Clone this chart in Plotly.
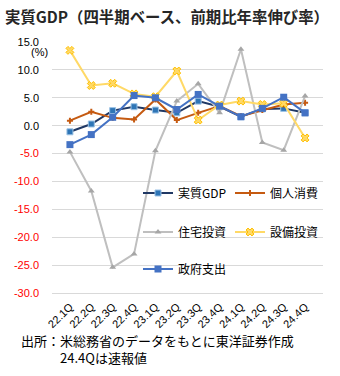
import plotly.graph_objects as go

# Quarterly labels and annualized q/q growth rates (%)
quarters = ["22.1Q", "22.2Q", "22.3Q", "22.4Q", "23.1Q", "23.2Q",
            "23.3Q", "23.4Q", "24.1Q", "24.2Q", "24.3Q", "24.4Q"]
real_gdp = [-1.1, 0.3, 2.7, 3.4, 2.8, 2.3, 4.4, 3.4, 1.6, 3.0, 3.1, 2.3]
consumption = [0.9, 2.5, 1.4, 1.1, 4.7, 1.0, 2.3, 3.5, 1.7, 2.8, 3.8, 4.1]
residential = [-4.7, -11.7, -25.4, -23.0, -4.5, 4.4, 7.5, 2.3, 13.7, -3.0, -4.4, 5.3]
business_inv = [13.5, 7.2, 7.6, 5.7, 5.2, 9.8, 1.0, 3.7, 4.4, 3.8, 4.0, -2.2]
government = [-3.4, -1.6, 1.5, 5.4, 5.0, 2.9, 5.6, 3.5, 1.6, 3.1, 5.1, 2.3]

# Y ticks: negatives shown in red
y_ticks = [15, 10, 5, 0, -5, -10, -15, -20, -25, -30]
y_text = [f"{v:.1f}" if v >= 0 else f"<span style='color:#FF0000'>{v:.1f}</span>"
          for v in y_ticks]

W, H = 340, 376
ML, MR, MT, MB = 52, 17, 42, 83
plot_w = W - ML - MR
plot_h = H - MT - MB

JP = "Noto Sans CJK JP"
LAT = "Liberation Sans, Noto Sans CJK JP"


def px_x(x):
    return (x - ML) / plot_w


def px_y(y):
    return (H - MB - y) / plot_h


fig = go.Figure()

series = [
    dict(name="実質GDP", y=real_gdp, line=dict(color="#203864", width=2),
         marker=dict(symbol="square", size=6, color="#2E75B6",
                     line=dict(color="#9DC3E6", width=1)), legend="legend"),
    dict(name="個人消費", y=consumption, line=dict(color="#C55A11", width=2),
         marker=dict(symbol="cross", size=5, color="#C55A11",
                     line=dict(color="#C55A11", width=0)), legend="legend"),
    dict(name="住宅投資", y=residential, line=dict(color="#BFBFBF", width=2),
         marker=dict(symbol="triangle-up", size=6, color="#A6A6A6",
                     line=dict(width=0)), legend="legend2"),
    dict(name="設備投資", y=business_inv, line=dict(color="#FFD966", width=2),
         marker=dict(symbol="x", size=7, color="#FFD966",
                     line=dict(color="#FFC000", width=1)), legend="legend2"),
    dict(name="政府支出", y=government, line=dict(color="#4472C4", width=2),
         marker=dict(symbol="square", size=7, color="#4472C4",
                     line=dict(width=0)), legend="legend3"),
]

for s in series:
    fig.add_trace(go.Scatter(x=quarters, y=s["y"], name=s["name"],
                             mode="lines+markers", line=s["line"],
                             marker=s["marker"], legend=s["legend"]))

legend_common = dict(orientation="h", xanchor="left", yanchor="middle",
                     bgcolor="rgba(0,0,0,0)", entrywidth=47,
                     entrywidthmode="pixels", itemwidth=30,
                     font=dict(family=JP, size=12, color="#000000"))

fig.update_layout(
    width=W, height=H,
    margin=dict(l=ML, r=MR, t=MT, b=MB),
    paper_bgcolor="white", plot_bgcolor="white",
    showlegend=True,
    title=dict(text="<b>実質GDP（四半期ベース、前期比年率伸び率）</b>",
               font=dict(family=JP, size=15.4, color="#262626"),
               xref="container", yref="container",
               x=5 / W, xanchor="left", y=1 - 18 / H, yanchor="middle"),
    xaxis=dict(type="category", tickangle=-45, showgrid=False,
               tickfont=dict(family=LAT, size=11, color="#000000"),
               showline=True, linecolor="#D9D9D9", linewidth=1,
               ticks="", ticklabelstandoff=2),
    yaxis=dict(range=[-30, 15], tickvals=y_ticks, ticktext=y_text,
               showgrid=True, gridcolor="#D9D9D9", gridwidth=1,
               zeroline=False, ticks="", ticklabelstandoff=12,
               tickfont=dict(family=LAT, size=11, color="#000000")),
    legend=dict(**legend_common, x=px_x(138), y=px_y(193)),
    legend2=dict(**legend_common, x=px_x(138), y=px_y(232)),
    legend3=dict(**legend_common, x=px_x(138), y=px_y(269)),
)

fig.add_annotation(text="(%)", xref="paper", yref="paper",
                   x=px_x(50), y=px_y(52), xanchor="right", yanchor="middle",
                   showarrow=False, font=dict(family=LAT, size=11, color="#000000"))
fig.add_annotation(text="出所：米総務省のデータをもとに東洋証券作成<br>　　　24.4Qは速報値",
                   xref="paper", yref="paper", x=px_x(19), y=px_y(349),
                   xanchor="left", yanchor="middle", align="left", showarrow=False,
                   font=dict(family=JP, size=13, color="#000000"))

fig.write_html("out.html")
